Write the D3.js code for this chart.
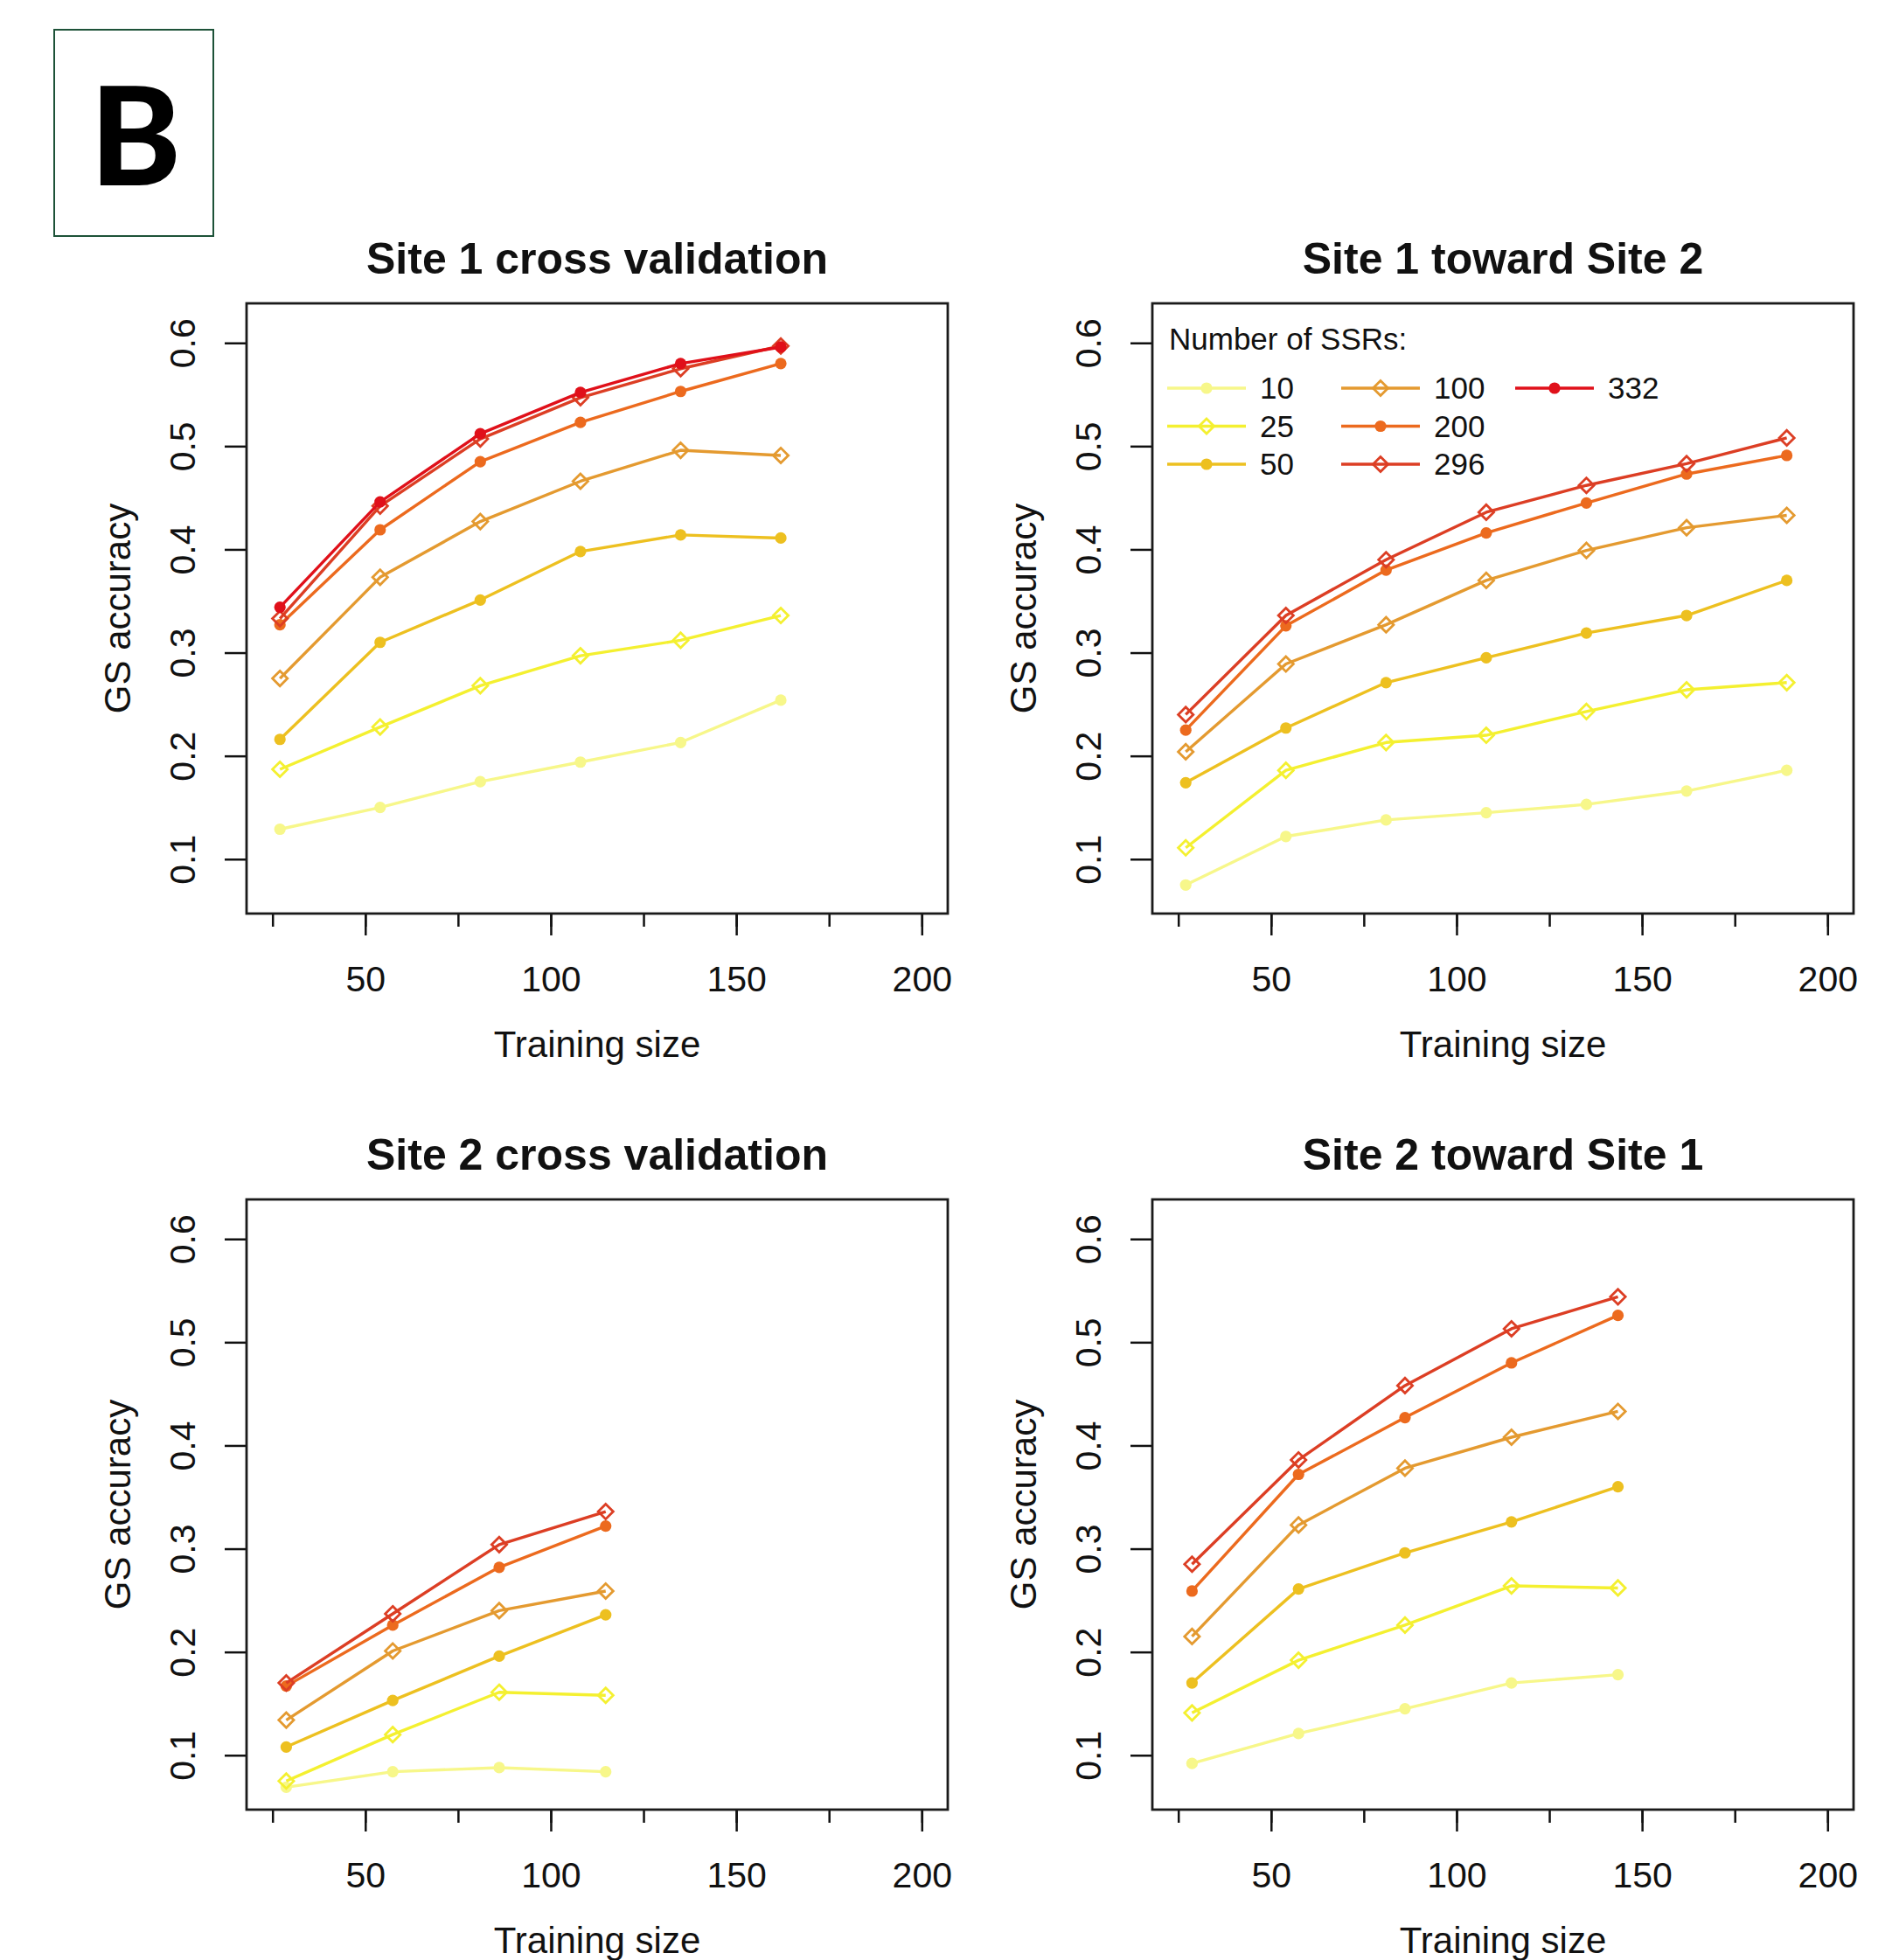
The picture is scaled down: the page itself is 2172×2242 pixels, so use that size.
<!DOCTYPE html>
<html>
<head>
<meta charset="utf-8">
<script src="https://cdn.jsdelivr.net/npm/d3@7/dist/d3.min.js"></script>
<style>
  body { margin: 0; background: #fff; }
  text { font-family: "Liberation Sans", Arial, sans-serif; fill: #111; }
</style>
</head>
<body>
<div id="chart"></div>
<script>
// number of SSR markers, one series each
const ssrLevels = ["10", "25", "50", "100", "200", "296", "332"];
const seriesColors = ["#F7F78A", "#F4F030", "#EDC020", "#E49A30", "#EC6A1E", "#DC3E24", "#E0101A"];
const seriesShapes = ["circle", "diamond", "circle", "diamond", "circle", "diamond", "circle"];

// training sizes
const site1Sizes = [27, 54, 81, 108, 135, 162];
const site1to2Sizes = [27, 54, 81, 108, 135, 162, 189];
const site2Sizes = [28.7, 57.4, 86.1, 114.8];
const site2to1Sizes = [28.7, 57.4, 86.1, 114.8, 143.5];

// GS accuracy, rows follow ssrLevels
const site1CV = [
  [0.129, 0.150, 0.175, 0.194, 0.213, 0.254],
  [0.187, 0.228, 0.268, 0.297, 0.312, 0.336],
  [0.216, 0.310, 0.351, 0.398, 0.414, 0.411],
  [0.275, 0.373, 0.427, 0.466, 0.496, 0.491],
  [0.327, 0.419, 0.485, 0.523, 0.553, 0.580],
  [0.333, 0.442, 0.507, 0.547, 0.575, 0.597],
  [0.344, 0.446, 0.512, 0.552, 0.580, 0.596],
];
const site1to2 = [
  [0.075, 0.122, 0.138, 0.145, 0.153, 0.166, 0.186],
  [0.111, 0.186, 0.213, 0.220, 0.243, 0.264, 0.271],
  [0.174, 0.227, 0.271, 0.295, 0.319, 0.336, 0.370],
  [0.204, 0.289, 0.327, 0.370, 0.399, 0.421, 0.433],
  [0.225, 0.326, 0.380, 0.416, 0.445, 0.473, 0.491],
  [0.240, 0.336, 0.390, 0.436, 0.462, 0.483, 0.508],
];
const site2CV = [
  [0.069, 0.084, 0.088, 0.084],
  [0.075, 0.120, 0.161, 0.158],
  [0.108, 0.153, 0.196, 0.236],
  [0.134, 0.201, 0.240, 0.259],
  [0.167, 0.226, 0.282, 0.322],
  [0.170, 0.237, 0.304, 0.336],
];
const site2to1 = [
  [0.092, 0.121, 0.145, 0.170, 0.178],
  [0.141, 0.192, 0.226, 0.264, 0.262],
  [0.170, 0.261, 0.296, 0.326, 0.360],
  [0.215, 0.323, 0.378, 0.408, 0.433],
  [0.259, 0.372, 0.427, 0.480, 0.526],
  [0.285, 0.386, 0.458, 0.513, 0.544],
];

const xTicks = [25, 50, 75, 100, 125, 150, 175, 200];
const xLabelTicks = [50, 100, 150, 200];
const yTicks = [0.1, 0.2, 0.3, 0.4, 0.5, 0.6];

const width = 2172;
const height = 2242;
const plotW = 802;
const plotH = 698;

const panels = [
  { title: "Site 1 cross validation", sizes: site1Sizes, values: site1CV, left: 282, top: 347 },
  { title: "Site 1 toward Site 2", sizes: site1to2Sizes, values: site1to2, left: 1318, top: 347, legend: true },
  { title: "Site 2 cross validation", sizes: site2Sizes, values: site2CV, left: 282, top: 1372 },
  { title: "Site 2 toward Site 1", sizes: site2to1Sizes, values: site2to1, left: 1318, top: 1372 },
];

const svg = d3
  .select("#chart")
  .append("svg")
  .attr("width", width)
  .attr("height", height)
  .style("display", "block");

svg.append("rect").attr("width", width).attr("height", height).attr("fill", "#fff");

// panel letter
svg
  .append("rect")
  .attr("x", 62)
  .attr("y", 34)
  .attr("width", 182)
  .attr("height", 236)
  .attr("fill", "none")
  .attr("stroke", "#1d5238")
  .attr("stroke-width", 2);

svg
  .append("text")
  .attr("x", 155)
  .attr("y", 212)
  .attr("text-anchor", "middle")
  .style("font-family", "Lato, 'Open Sans', sans-serif")
  .style("font-weight", 900)
  .style("font-size", "157px")
  .style("fill", "#000")
  .text("B");

function diamondPath(s) {
  return `M0,${-s}L${s},0L0,${s}L${-s},0Z`;
}

function drawMarker(g, shape, color) {
  if (shape === "circle") {
    g.append("circle").attr("r", 6.6).attr("fill", color);
  } else {
    g.append("path")
      .attr("d", diamondPath(8.6))
      .attr("fill", "none")
      .attr("stroke", color)
      .attr("stroke-width", 2.8);
  }
}

function drawPanel(p) {
  const g = svg.append("g").attr("transform", `translate(${p.left},${p.top})`);

  const x = d3.scaleLinear().domain([18, 207]).range([0, plotW]);
  const y = d3.scaleLinear().domain([0.0473, 0.6383]).range([plotH, 0]);

  // minor ticks
  g.append("g")
    .attr("transform", `translate(0,${plotH})`)
    .call(d3.axisBottom(x).tickValues(xTicks).tickSize(15).tickFormat(""))
    .call((a) => a.select(".domain").remove())
    .selectAll("line")
    .attr("stroke", "#111")
    .attr("stroke-width", 2.5);

  const xAxis = g
    .append("g")
    .attr("transform", `translate(0,${plotH})`)
    .call(d3.axisBottom(x).tickValues(xLabelTicks).tickSize(25).tickFormat(d3.format("d")));
  xAxis.select(".domain").remove();
  xAxis.selectAll("line").attr("stroke", "#111").attr("stroke-width", 2.5);
  xAxis
    .selectAll("text")
    .attr("y", 75)
    .attr("dy", "0.35em")
    .style("font-size", "41px")
    .style("font-family", "'Liberation Sans', Arial, sans-serif")
    .style("fill", "#111");

  const yAxis = g
    .append("g")
    .call(d3.axisLeft(y).tickValues(yTicks).tickSize(25).tickFormat(d3.format(".1f")));
  yAxis.select(".domain").remove();
  yAxis.selectAll("line").attr("stroke", "#111").attr("stroke-width", 2.5);
  yAxis
    .selectAll("text")
    .attr("x", null)
    .attr("y", null)
    .attr("dy", "0.35em")
    .attr("text-anchor", "middle")
    .attr("transform", "translate(-73,0) rotate(-90)")
    .style("font-size", "41px")
    .style("font-family", "'Liberation Sans', Arial, sans-serif")
    .style("fill", "#111");

  // series, smallest first so the larger sets sit on top
  const line = d3
    .line()
    .x((d) => x(d[0]))
    .y((d) => y(d[1]));

  p.values.forEach((vals, i) => {
    const pts = vals.map((v, j) => [p.sizes[j], v]);
    g.append("path")
      .datum(pts)
      .attr("d", line)
      .attr("fill", "none")
      .attr("stroke", seriesColors[i])
      .attr("stroke-width", 3.4)
      .attr("stroke-linejoin", "round");

    g.selectAll(null)
      .data(pts)
      .join("g")
      .attr("transform", (d) => `translate(${x(d[0])},${y(d[1])})`)
      .each(function () {
        drawMarker(d3.select(this), seriesShapes[i], seriesColors[i]);
      });
  });

  // frame
  g.append("rect")
    .attr("width", plotW)
    .attr("height", plotH)
    .attr("fill", "none")
    .attr("stroke", "#1a1a1a")
    .attr("stroke-width", 2.8);

  g.append("text")
    .attr("x", plotW / 2)
    .attr("y", -52)
    .attr("dy", "0.35em")
    .attr("text-anchor", "middle")
    .style("font-size", "50px")
    .style("font-weight", "bold")
    .text(p.title);

  g.append("text")
    .attr("x", plotW / 2)
    .attr("y", plotH + 149)
    .attr("dy", "0.35em")
    .attr("text-anchor", "middle")
    .style("font-size", "42px")
    .text("Training size");

  g.append("text")
    .attr("transform", `translate(-148,${plotH / 2}) rotate(-90)`)
    .attr("dy", "0.35em")
    .attr("text-anchor", "middle")
    .style("font-size", "42px")
    .text("GS accuracy");

  if (p.legend) drawLegend(g);
}

function drawLegend(g) {
  const lg = g.append("g").attr("transform", "translate(17,0)");
  lg.append("text")
    .attr("x", 2)
    .attr("y", 41)
    .attr("dy", "0.35em")
    .style("font-size", "35px")
    .text("Number of SSRs:");

  ssrLevels.forEach((lvl, i) => {
    const col = Math.floor(i / 3);
    const row = i % 3;
    const item = lg
      .append("g")
      .attr("transform", `translate(${col * 199},${97 + row * 43.5})`);
    item.append("line")
      .attr("x1", 0)
      .attr("x2", 90)
      .attr("stroke", seriesColors[i])
      .attr("stroke-width", 3.4);
    drawMarker(item.append("g").attr("transform", "translate(45,0)"), seriesShapes[i], seriesColors[i]);
    item.append("text")
      .attr("x", 106)
      .attr("dy", "0.35em")
      .style("font-size", "35px")
      .text(lvl);
  });
}

panels.forEach(drawPanel);
</script>
</body>
</html>
